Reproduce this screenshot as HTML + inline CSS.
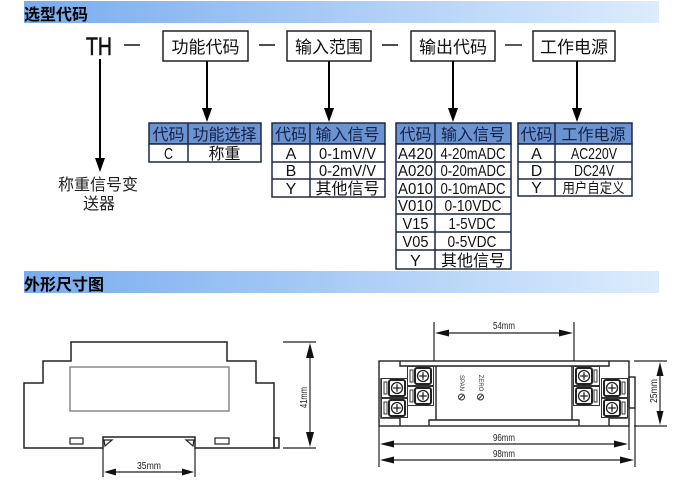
<!DOCTYPE html>
<html><head><meta charset="utf-8"><style>
html,body{margin:0;padding:0;background:#fff;}
svg{display:block;}
text{font-family:"Liberation Sans","Noto Sans CJK SC",sans-serif;}
</style></head><body>
<svg width="684" height="487" viewBox="0 0 684 487" xmlns="http://www.w3.org/2000/svg">
<defs>
<linearGradient id="bar" x1="0" x2="1" y1="0" y2="0">
<stop offset="0" stop-color="#78acee"/><stop offset="1" stop-color="#dcecfd"/>
</linearGradient>
<g id="tl">
<rect x="0.5" y="0.5" width="26" height="19" fill="#fff" stroke="#333" stroke-width="1"/>
<rect x="3" y="4" width="3" height="12" fill="none" stroke="#333" stroke-width="1"/>
<rect x="8" y="2" width="16" height="16" rx="2" fill="#fff" stroke="#222" stroke-width="2"/>
<circle cx="16" cy="10" r="5.5" fill="none" stroke="#222" stroke-width="1.3"/>
<path d="M16 6.2V13.8M12.2 10H19.8" stroke="#222" stroke-width="1.3"/>
</g>
<g id="tr">
<rect x="0.5" y="0.5" width="26" height="19" fill="#fff" stroke="#333" stroke-width="1"/>
<rect x="21" y="4" width="3" height="12" fill="none" stroke="#333" stroke-width="1"/>
<rect x="3" y="2" width="16" height="16" rx="2" fill="#fff" stroke="#222" stroke-width="2"/>
<circle cx="11" cy="10" r="5.5" fill="none" stroke="#222" stroke-width="1.3"/>
<path d="M11 6.2V13.8M7.2 10H14.8" stroke="#222" stroke-width="1.3"/>
</g>
</defs>
<rect width="684" height="487" fill="#fff"/>

<rect x="24" y="1" width="635" height="22" fill="url(#bar)"/>
<text x="24" y="20" font-size="16" font-weight="bold" fill="#000">选型代码</text>
<rect x="24" y="271" width="635" height="22" fill="url(#bar)"/>
<text x="24" y="290" font-size="16" font-weight="bold" fill="#000">外形尺寸图</text>

<text x="86" y="55" font-size="25" textLength="26" lengthAdjust="spacingAndGlyphs" fill="#111" stroke="#111" stroke-width="0.6">TH</text>
<g stroke="#222" stroke-width="1.6">
<line x1="124" y1="45" x2="140" y2="45"/>
<line x1="259" y1="45" x2="275" y2="45"/>
<line x1="382" y1="45" x2="398" y2="45"/>
<line x1="505" y1="45" x2="522" y2="45"/>
</g>
<g fill="#fff" stroke="#222" stroke-width="1.5">
<rect x="163" y="31" width="85" height="30"/>
<rect x="287" y="31" width="84" height="30"/>
<rect x="411" y="31" width="84" height="30"/>
<rect x="533" y="31" width="82" height="30"/>
</g>
<g font-size="17" fill="#111" text-anchor="middle">
<text x="205.5" y="53">功能代码</text>
<text x="329" y="53">输入范围</text>
<text x="453" y="53">输出代码</text>
<text x="574" y="53">工作电源</text>
</g>

<g stroke="#000" stroke-width="2">
<line x1="100" y1="59" x2="100" y2="160"/>
<line x1="207" y1="61" x2="207" y2="110"/>
<line x1="329" y1="61" x2="329" y2="110"/>
<line x1="453" y1="61" x2="453" y2="110"/>
<line x1="577" y1="61" x2="577" y2="110"/>
</g>
<g fill="#000">
<polygon points="95,158 105,158 100,172"/>
<polygon points="202,108 212,108 207,122"/>
<polygon points="324,108 334,108 329,122"/>
<polygon points="448,108 458,108 453,122"/>
<polygon points="572,108 582,108 577,122"/>
</g>
<text x="98" y="190" font-size="16" text-anchor="middle" fill="#222">称重信号变</text>
<text x="99" y="209" font-size="16" text-anchor="middle" fill="#222">送器</text>

<g stroke="#1c2a48" stroke-width="1.5">
<rect x="149" y="123" width="112" height="21" fill="#6a93d0"/>
<rect x="149" y="144" width="112" height="18" fill="#fff"/>
<line x1="188" y1="123" x2="188" y2="162"/>
<rect x="272" y="123" width="113" height="21" fill="#6a93d0"/>
<rect x="272" y="144" width="113" height="53" fill="#fff"/>
<line x1="272" y1="162" x2="385" y2="162"/>
<line x1="272" y1="179" x2="385" y2="179"/>
<line x1="310" y1="123" x2="310" y2="197"/>
<rect x="396" y="123" width="115" height="21" fill="#6a93d0"/>
<rect x="396" y="144" width="115" height="125" fill="#fff"/>
<line x1="396" y1="162" x2="511" y2="162"/>
<line x1="396" y1="179" x2="511" y2="179"/>
<line x1="396" y1="197" x2="511" y2="197"/>
<line x1="396" y1="214" x2="511" y2="214"/>
<line x1="396" y1="232" x2="511" y2="232"/>
<line x1="396" y1="250" x2="511" y2="250"/>
<line x1="435" y1="123" x2="435" y2="269"/>
<rect x="518" y="123" width="114" height="21" fill="#6a93d0"/>
<rect x="518" y="144" width="114" height="52" fill="#fff"/>
<line x1="518" y1="162" x2="632" y2="162"/>
<line x1="518" y1="179" x2="632" y2="179"/>
<line x1="555" y1="123" x2="555" y2="196"/>
</g>
<g font-size="16" fill="#14224a" text-anchor="middle">
<text x="168.5" y="140">代码</text><text x="224.5" y="140">功能选择</text>
<text x="291" y="140">代码</text><text x="347.5" y="140">输入信号</text>
<text x="415.5" y="140">代码</text><text x="473" y="140">输入信号</text>
<text x="536.5" y="140">代码</text><text x="593.5" y="140">工作电源</text>
</g>
<g font-size="16" fill="#111" text-anchor="middle">
<text x="168.5" y="159" textLength="9" lengthAdjust="spacingAndGlyphs">C</text>
<text x="224.5" y="159">称重</text>
<text x="291" y="159">A</text>
<text x="347.5" y="159" textLength="57" lengthAdjust="spacingAndGlyphs">0-1mV/V</text>
<text x="291" y="176">B</text>
<text x="347.5" y="176" textLength="57" lengthAdjust="spacingAndGlyphs">0-2mV/V</text>
<text x="291" y="194">Y</text>
<text x="347.5" y="194">其他信号</text>
<text x="415.5" y="159" textLength="35" lengthAdjust="spacingAndGlyphs">A420</text>
<text x="473" y="159" textLength="65" lengthAdjust="spacingAndGlyphs">4-20mADC</text>
<text x="415.5" y="176" textLength="35" lengthAdjust="spacingAndGlyphs">A020</text>
<text x="473" y="176" textLength="65" lengthAdjust="spacingAndGlyphs">0-20mADC</text>
<text x="415.5" y="194" textLength="35" lengthAdjust="spacingAndGlyphs">A010</text>
<text x="473" y="194" textLength="65" lengthAdjust="spacingAndGlyphs">0-10mADC</text>
<text x="415.5" y="211" textLength="35" lengthAdjust="spacingAndGlyphs">V010</text>
<text x="473" y="211" textLength="57" lengthAdjust="spacingAndGlyphs">0-10VDC</text>
<text x="415.5" y="229" textLength="26" lengthAdjust="spacingAndGlyphs">V15</text>
<text x="472" y="229" textLength="47" lengthAdjust="spacingAndGlyphs">1-5VDC</text>
<text x="415.5" y="247" textLength="26" lengthAdjust="spacingAndGlyphs">V05</text>
<text x="472" y="247" textLength="49" lengthAdjust="spacingAndGlyphs">0-5VDC</text>
<text x="415.5" y="266">Y</text>
<text x="473" y="266">其他信号</text>
<text x="536.5" y="159">A</text>
<text x="594" y="159" textLength="46" lengthAdjust="spacingAndGlyphs">AC220V</text>
<text x="536.5" y="176">D</text>
<text x="594" y="176" textLength="40" lengthAdjust="spacingAndGlyphs">DC24V</text>
<text x="536.5" y="193">Y</text>
<text x="593.5" y="193" font-size="14" textLength="62" lengthAdjust="spacingAndGlyphs">用户自定义</text>
</g>

<g fill="none" stroke="#222" stroke-width="1.5">
<path d="M24 448 V383 H43 V361 H71 V342 H227 V361 H256 V383 H274 V448 H195 V437 H103 V448 Z"/>
<rect x="274" y="438" width="5" height="10"/>
<rect x="70" y="438" width="13" height="6" stroke-width="1.2"/>
<rect x="215" y="438" width="14" height="6" stroke-width="1.2"/>
</g>
<rect x="70" y="367" width="159" height="44" fill="none" stroke="#777" stroke-width="1.3"/>
<g fill="none" stroke="#222" stroke-width="1.2">
<polygon points="104,440 112,440 105,446"/>
<polygon points="194,440 186,440 193,446"/>
</g>
<g stroke="#222" stroke-width="1.2">
<line x1="283" y1="342" x2="316" y2="342"/>
<line x1="283" y1="448" x2="316" y2="448"/>
<line x1="310" y1="350" x2="310" y2="440"/>
<line x1="103" y1="448" x2="103" y2="477"/>
<line x1="195" y1="448" x2="195" y2="477"/>
<line x1="110" y1="472" x2="188" y2="472"/>
</g>
<g fill="#111">
<polygon points="310,343 306,358 314,358"/>
<polygon points="310,447 306,432 314,432"/>
<polygon points="104,472 116,468.5 116,475.5"/>
<polygon points="194,472 182,468.5 182,475.5"/>
</g>
<text x="149" y="469" font-size="10" text-anchor="middle" fill="#222" textLength="24" lengthAdjust="spacingAndGlyphs">35mm</text>
<text transform="translate(307,397.5) rotate(-90)" font-size="10" text-anchor="middle" fill="#222" textLength="21" lengthAdjust="spacingAndGlyphs">41mm</text>

<g fill="none" stroke="#222" stroke-width="1.4">
<rect x="379" y="361" width="250" height="65" fill="#fff"/>
<path d="M400 361 V366 H609 V361"/>
<path d="M429 426 V420 H579 V426"/>
<rect x="629" y="377" width="6" height="31"/>
<line x1="436" y1="366" x2="436" y2="420"/>
<line x1="572" y1="366" x2="572" y2="420"/>
<path d="M381 378 V418 H400 V426"/>
<path d="M627 378 V418 H609 V426"/>
</g>
<use href="#tl" x="381" y="378"/>
<use href="#tl" x="381" y="398"/>
<use href="#tl" x="407" y="366"/>
<use href="#tl" x="407" y="386"/>
<use href="#tr" x="573" y="366"/>
<use href="#tr" x="573" y="386"/>
<use href="#tr" x="601" y="378"/>
<use href="#tr" x="601" y="398"/>
<g fill="none" stroke="#333" stroke-width="1">
<circle cx="461.5" cy="397" r="3"/><line x1="459.5" y1="399" x2="463.5" y2="395"/>
<circle cx="480.5" cy="397" r="3"/><line x1="478.5" y1="399" x2="482.5" y2="395"/>
</g>
<text transform="translate(460,383) rotate(90)" font-size="6" text-anchor="middle" fill="#333">SPAN</text>
<text transform="translate(479,383) rotate(90)" font-size="6" text-anchor="middle" fill="#333">ZERO</text>

<g stroke="#222" stroke-width="1.2">
<line x1="434" y1="322" x2="434" y2="361"/>
<line x1="574" y1="322" x2="574" y2="361"/>
<line x1="440" y1="333" x2="568" y2="333"/>
<line x1="379" y1="426" x2="379" y2="467"/>
<line x1="629" y1="426" x2="629" y2="450"/>
<line x1="635" y1="408" x2="635" y2="467"/>
<line x1="385" y1="444" x2="623" y2="444"/>
<line x1="385" y1="460" x2="629" y2="460"/>
<line x1="634" y1="361" x2="667" y2="361"/>
<line x1="634" y1="426" x2="667" y2="426"/>
<line x1="660" y1="368" x2="660" y2="419"/>
</g>
<g fill="#111">
<polygon points="435,333 449,329.5 449,336.5"/>
<polygon points="573,333 559,329.5 559,336.5"/>
<polygon points="380,444 394,440.5 394,447.5"/>
<polygon points="628,444 614,440.5 614,447.5"/>
<polygon points="380,460 394,456.5 394,463.5"/>
<polygon points="634,460 620,456.5 620,463.5"/>
<polygon points="660,362 656.5,376 663.5,376"/>
<polygon points="660,425 656.5,411 663.5,411"/>
</g>
<g font-size="10" text-anchor="middle" fill="#222">
<text x="504" y="329" textLength="22" lengthAdjust="spacingAndGlyphs">54mm</text>
<text x="504" y="441" textLength="22" lengthAdjust="spacingAndGlyphs">96mm</text>
<text x="504" y="457" textLength="22" lengthAdjust="spacingAndGlyphs">98mm</text>
<text transform="translate(657,391) rotate(-90)" textLength="24" lengthAdjust="spacingAndGlyphs">25mm</text>
</g>
</svg>
</body></html>
